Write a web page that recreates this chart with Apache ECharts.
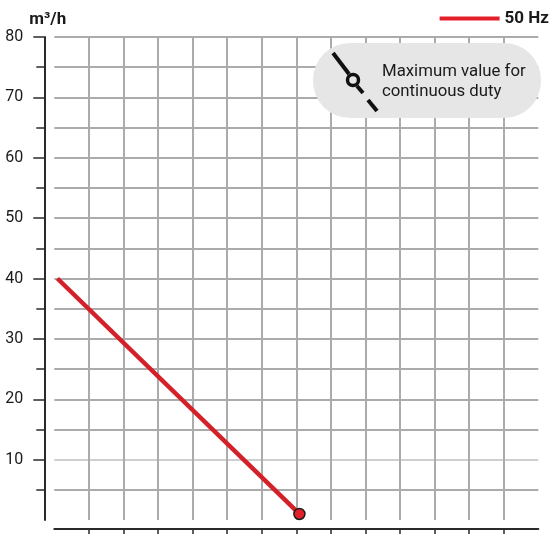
<!DOCTYPE html>
<html><head><meta charset="utf-8">
<script src="https://cdn.jsdelivr.net/npm/echarts@6/dist/echarts.min.js"></script>
<style>html,body{margin:0;padding:0;background:#fff}#c{width:551px;height:534px}</style>
</head><body><div id="c"></div>
<script>
const seriesName = '50 Hz';
const flowX = [0.09, 7.09];
const flowY = [40, 1];
const yTickValues = [10, 20, 30, 40, 50, 60, 70, 80];
const xTickValues = [1, 2, 3, 4, 5, 6, 7, 8, 9, 10, 11, 12, 13];
const yUnit = 'm³/h';
const noteLines = ['Maximum value for', 'continuous duty'];

const FONT = 'Roboto';
const gridColor = '#ababab';
const edgeColor = '#cfcfcf';

const data = flowX.map((x, i) => {
  const item = { value: [x, flowY[i]] };
  if (i === flowX.length - 1) {
    item.symbol = 'circle';
    item.symbolSize = 11;
    item.itemStyle = { color: '#e3202a', borderColor: '#1a1a1a', borderWidth: 1.5 };
  }
  return item;
});

const xColors = [];
for (let i = 0; i <= 14; i++) xColors.push(i === 14 ? edgeColor : gridColor);
const yColors = [];
for (let i = 0; i <= 8; i++) yColors.push(i === 0 ? edgeColor : gridColor);

const chart = echarts.init(document.getElementById('c'));
chart.setOption({
  animation: false,
  grid: { left: 54.3, right: 12.7, top: 37, bottom: 14 },
  legend: {
    right: 2, top: 10, padding: 0,
    data: [{ name: seriesName, icon: 'rect' }],
    itemWidth: 60, itemHeight: 4, itemGap: 6,
    textStyle: { fontFamily: FONT, fontWeight: 'bold', fontSize: 17, color: '#1a1a1a' },
    itemStyle: { color: '#e3202a' }
  },
  xAxis: {
    type: 'value', min: 0, max: 14, interval: 1,
    offset: 9,
    axisLine: { show: true, onZero: false, lineStyle: { color: '#2a2a2a', width: 2 } },
    axisTick: { show: true, inside: false, length: 6, customValues: xTickValues, lineStyle: { color: '#2a2a2a', width: 1.5 } },
    axisLabel: { show: false },
    splitLine: { show: true, lineStyle: { color: xColors, width: 2 } }
  },
  yAxis: {
    type: 'value', min: 0, max: 80, interval: 10,
    offset: 10,
    name: yUnit,
    nameLocation: 'end',
    nameGap: 9,
    nameTextStyle: { fontFamily: FONT, fontWeight: 'bold', fontSize: 17, color: '#1a1a1a', align: 'left', padding: [0, 0, 0, -15] },
    axisLine: { show: true, onZero: false, lineStyle: { color: '#2a2a2a', width: 2 } },
    axisTick: { show: true, length: 11, customValues: yTickValues, lineStyle: { color: '#2a2a2a', width: 1.5 } },
    minorTick: { show: true, splitNumber: 2, length: 8, lineStyle: { color: '#2a2a2a', width: 1.5 } },
    axisLabel: { customValues: yTickValues, margin: 21, fontFamily: FONT, fontSize: 16, color: '#1a1a1a' },
    splitLine: { show: true, lineStyle: { color: yColors, width: 2 } },
    minorSplitLine: { show: true, lineStyle: { color: gridColor, width: 2 } }
  },
  series: [{
    name: seriesName,
    type: 'line',
    data: data,
    symbol: 'none',
    showSymbol: true,
    lineStyle: { color: '#d42029', width: 4.5 },
    itemStyle: { color: '#e3202a' },
    z: 5
  }],
  graphic: [
    { type: 'rect', shape: { x: 313, y: 43, width: 228, height: 75, r: 37 }, style: { fill: '#e6e6e7' }, z: 10 },
    { type: 'line', shape: { x1: 333, y1: 53, x2: 349, y2: 74 }, style: { stroke: '#111', lineWidth: 4 }, z: 11 },
    { type: 'circle', shape: { cx: 353, cy: 80, r: 5.5 }, style: { fill: '#e6e6e7', stroke: '#111', lineWidth: 3.5 }, z: 11 },
    { type: 'line', shape: { x1: 357, y1: 86, x2: 363, y2: 93 }, style: { stroke: '#111', lineWidth: 4 }, z: 11 },
    { type: 'line', shape: { x1: 368, y1: 100, x2: 377, y2: 111 }, style: { stroke: '#111', lineWidth: 4 }, z: 11 },
    { type: 'text', x: 382, y: 72, style: { text: noteLines[0], fontFamily: FONT, fontSize: 16.8, fill: '#1a1a1a', verticalAlign: 'middle' }, z: 11 },
    { type: 'text', x: 382, y: 92, style: { text: noteLines[1], fontFamily: FONT, fontSize: 16.8, fill: '#1a1a1a', verticalAlign: 'middle' }, z: 11 }
  ]
});
</script></body></html>
